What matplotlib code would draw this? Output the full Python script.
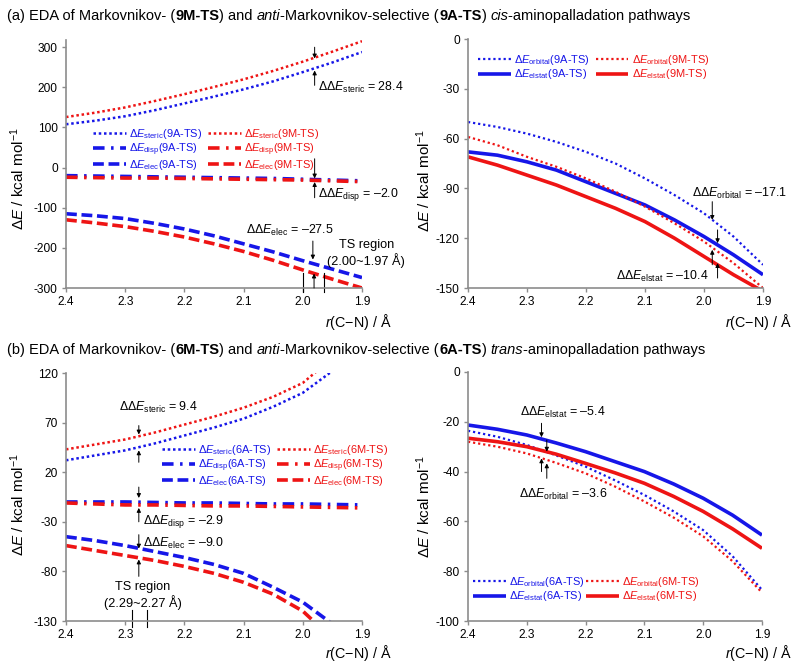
import matplotlib
matplotlib.use('Agg')
import matplotlib.pyplot as plt
import numpy as np
from matplotlib.ticker import FormatStrFormatter, MultipleLocator

plt.rcParams['font.family'] = ['Liberation Sans', 'DejaVu Sans']
plt.rcParams['mathtext.fontset'] = 'custom'
plt.rcParams['mathtext.rm'] = 'Liberation Sans'
plt.rcParams['mathtext.it'] = 'Liberation Sans:italic'
plt.rcParams['mathtext.bf'] = 'Liberation Sans:bold'
plt.rcParams['axes.unicode_minus'] = False

BLUE = '#1616e8'
RED = '#ee1414'
GRAY = '#8c8c8c'

# r(C-N) grid, read every 0.05 A
R = [2.40, 2.35, 2.30, 2.25, 2.20, 2.15, 2.10, 2.05, 2.00, 1.95, 1.90]

# (a) cis, left panel
steric_9A = [108, 117, 128, 143, 160, 177, 195, 215, 238, 262, 288]
steric_9M = [126, 137, 150, 166, 183, 201, 220, 241, 264, 289, 315]
disp_9A = [-20, -21, -22, -23, -24, -25, -26, -27, -29, -31, -33]
disp_9M = [-24, -25, -26, -26, -27, -28, -29, -30, -31, -33, -35]
elec_9A = [-115, -120, -127, -139, -153, -170, -190, -210, -232, -253, -274]
elec_9M = [-130, -138, -147, -159, -173, -190, -209, -231, -255, -278, -300]

# (a) cis, right panel
orbital_9A = [-50, -53, -57, -62, -68, -75, -84, -94, -105, -119, -136]
orbital_9M = [-59, -64, -71, -77, -84, -92, -101, -111, -122, -135, -150]
elstat_9A = [-68, -70, -74, -79, -86, -93, -100, -109, -119, -130, -142]
elstat_9M = [-71, -76, -82, -88, -95, -102, -110, -120, -131, -142, -152]

# (b) trans, left panel (curves leave the plot near 1.95-1.98)
steric_6A = [32, 37, 42, 49, 57, 65, 74, 86, 100, 122]
steric_6M = [43, 48, 53, 60, 68, 76, 85, 96, 110, 135]
disp_6A = [-10, -10, -10, -10.5, -11, -11, -11.5, -12, -12, -12.5, -13]
disp_6M = [-11, -12, -13, -13, -13.5, -14, -14, -14.5, -15, -15.5, -16]
elec_6A = [-45, -49, -54, -60, -66, -73, -82, -96, -111, -133]
elec_6M = [-54, -59, -64, -69, -75, -82, -91, -103, -120, -148]

# (b) trans, right panel
elstat_6A = [-21.3, -23, -25.3, -28.5, -32, -36, -40, -45, -50.7, -57.5, -65.5]
elstat_6M = [-26.6, -28, -30, -33, -36.7, -40.5, -44.7, -50, -56, -63, -70.8]
orbital_6A = [-23.6, -26, -29.3, -33.5, -38, -43.5, -49.4, -56, -63.5, -74, -87.5]
orbital_6M = [-28, -30, -32.7, -36.5, -40.7, -46, -52, -58.5, -66, -76, -88.6]

TS_A = [2.00, 1.965]
TS_B = [2.288, 2.264]

STYLE = {
    'steric': dict(lw=1.8, dashes=(1, 1.1)),
    'disp': dict(lw=2.6, dashes=(3.2, 1.8, 0.7, 1.8)),
    'elec': dict(lw=2.6, dashes=(3.0, 1.3)),
    'orbital': dict(lw=1.6, dashes=(1, 1.3)),
    'elstat': dict(lw=2.6),
}

W, H = 800, 668
fig = plt.figure(figsize=(8, 6.68), dpi=100)


def px_axes(x0, x1, ytop, ybot):
    return fig.add_axes([x0 / W, 1 - ybot / H, (x1 - x0) / W, (ybot - ytop) / H])


def style_axes(ax, ylim, ystep, ytop, label_xy):
    ax.set_xlim(2.4, 1.9)
    ax.set_ylim(ylim[0], ytop)
    ax.xaxis.set_major_locator(MultipleLocator(0.1))
    ax.xaxis.set_major_formatter(FormatStrFormatter('%.1f'))
    ax.set_yticks(np.arange(ylim[0], ylim[1] + 1, ystep))
    ax.yaxis.set_major_formatter(FormatStrFormatter('%d'))
    for s in ['top', 'right']:
        ax.spines[s].set_visible(False)
    for s in ['left', 'bottom']:
        ax.spines[s].set_color(GRAY)
        ax.spines[s].set_linewidth(1.2)
    ax.tick_params(direction='out', length=3, width=1, color=GRAY,
                   labelsize=8.6, pad=3)
    ax.set_ylabel(r'$\Delta\mathit{E}$ / kcal mol$^{-1}$', fontsize=11)
    ax.yaxis.set_label_coords(*label_xy)


def curve(ax, y, color, kind, label):
    ax.plot(R[:len(y)], y, color=color, label=label, solid_capstyle='butt',
            dash_capstyle='butt', **STYLE[kind])


def arrow(ax, x, y0, y1):
    ax.annotate('', xy=(x, y1), xytext=(x, y0),
                arrowprops=dict(arrowstyle='-|>', color='black', lw=0.7,
                                mutation_scale=6, shrinkA=0, shrinkB=0))


def note(ax, x, y, s, ha='left'):
    ax.text(x, y, s, fontsize=8.9, ha=ha, va='center')


def legend(ax, x, y, colsp=0.5):
    leg = ax.legend(ncol=2, loc='upper left', bbox_to_anchor=(x / W, 1 - y / H),
                    bbox_transform=fig.transFigure, frameon=False, fontsize=7.9,
                    borderpad=0, borderaxespad=0, handlelength=3.0,
                    handletextpad=0.3, columnspacing=colsp, labelspacing=0.04)
    for t, h in zip(leg.get_texts(), leg.legend_handles):
        t.set_color(h.get_color())
    return leg


def rich_title(x, y, runs, size=10.55):
    renderer = fig.canvas.get_renderer()
    xp = x
    for s, weight, style in runs:
        fig.text(xp / W, 1 - y / H, s, fontsize=size, fontweight=weight,
                 fontstyle=style, ha='left', va='center')
        t1 = fig.text(0, 0, s + 'x', fontsize=size, fontweight=weight, fontstyle=style)
        t2 = fig.text(0, 0, 'x', fontsize=size, fontweight=weight, fontstyle=style)
        xp += t1.get_window_extent(renderer).width - t2.get_window_extent(renderer).width
        t1.remove()
        t2.remove()


def lab(name, tag):
    return r'$\Delta\mathit{E}_{\mathrm{' + name + '}}$(' + tag + ')'


xlabel = r'$\mathit{r}$(C$-$N) / Å'


def x_title(xr, yc):
    fig.text(xr / W, 1 - yc / H, xlabel, fontsize=10.3, ha='right', va='center')


# ---------------- (a) left ----------------
ax = px_axes(66, 362, 40, 288)
style_axes(ax, (-300, 300), 100, 318, (-0.132, 0.44))
curve(ax, steric_9A, BLUE, 'steric', lab('steric', '9A-TS'))
curve(ax, disp_9A, BLUE, 'disp', lab('disp', '9A-TS'))
curve(ax, elec_9A, BLUE, 'elec', lab('elec', '9A-TS'))
curve(ax, steric_9M, RED, 'steric', lab('steric', '9M-TS'))
curve(ax, disp_9M, RED, 'disp', lab('disp', '9M-TS'))
curve(ax, elec_9M, RED, 'elec', lab('elec', '9M-TS'))
legend(ax, 93, 127)
arrow(ax, 1.98, 300, 272)
arrow(ax, 1.98, 205, 242)
note(ax, 1.975, 200, r'$\Delta\Delta\mathit{E}_{\mathrm{steric}}$ = 28.4')
arrow(ax, 1.98, 22, -27)
arrow(ax, 1.98, -75, -36)
note(ax, 1.975, -68, r'$\Delta\Delta\mathit{E}_{\mathrm{disp}}$ = –2.0')
note(ax, 2.022, -157, r'$\Delta\Delta\mathit{E}_{\mathrm{elec}}$ = –27.5', ha='center')
arrow(ax, 1.983, -183, -229)
arrow(ax, 1.981, -300, -264)
ax.text(1.893, -214, 'TS region\n(2.00~1.97 Å)', fontsize=9.2, ha='center',
        va='center', linespacing=1.15)
for xv in TS_A:
    ax.plot([xv, xv], [-262, -311], color='black', lw=0.8, clip_on=False)
x_title(392, 322)

# ---------------- (a) right ----------------
ax = px_axes(468, 763, 39, 288)
style_axes(ax, (-150, 0), 30, 0, (-0.119, 0.43))
curve(ax, orbital_9A, BLUE, 'orbital', lab('orbital', '9A-TS'))
curve(ax, elstat_9A, BLUE, 'elstat', lab('elstat', '9A-TS'))
curve(ax, orbital_9M, RED, 'orbital', lab('orbital', '9M-TS'))
curve(ax, elstat_9M, RED, 'elstat', lab('elstat', '9M-TS'))
legend(ax, 478, 53)
note(ax, 2.02, -93, r'$\Delta\Delta\mathit{E}_{\mathrm{orbital}}$ = –17.1')
arrow(ax, 1.986, -98, -109)
arrow(ax, 1.977, -115, -123)
arrow(ax, 1.986, -136, -127)
arrow(ax, 1.977, -144, -135)
note(ax, 1.993, -143, r'$\Delta\Delta\mathit{E}_{\mathrm{elstat}}$ = –10.4', ha='right')
x_title(792, 322)

# ---------------- (b) left ----------------
ax = px_axes(66, 362, 373, 621)
style_axes(ax, (-130, 120), 50, 120, (-0.132, 0.47))
curve(ax, steric_6A, BLUE, 'steric', lab('steric', '6A-TS'))
curve(ax, disp_6A, BLUE, 'disp', lab('disp', '6A-TS'))
curve(ax, elec_6A, BLUE, 'elec', lab('elec', '6A-TS'))
curve(ax, steric_6M, RED, 'steric', lab('steric', '6M-TS'))
curve(ax, disp_6M, RED, 'disp', lab('disp', '6M-TS'))
curve(ax, elec_6M, RED, 'elec', lab('elec', '6M-TS'))
legend(ax, 162, 443)
note(ax, 2.31, 85, r'$\Delta\Delta\mathit{E}_{\mathrm{steric}}$ = 9.4')
arrow(ax, 2.277, 67, 58)
arrow(ax, 2.277, 30, 42)
arrow(ax, 2.277, 5, -6)
arrow(ax, 2.277, -30, -16)
note(ax, 2.27, -30, r'$\Delta\Delta\mathit{E}_{\mathrm{disp}}$ = –2.9')
arrow(ax, 2.277, -43, -57)
arrow(ax, 2.277, -85, -68)
note(ax, 2.27, -52, r'$\Delta\Delta\mathit{E}_{\mathrm{elec}}$ = –9.0')
ax.text(2.27, -104, 'TS region\n(2.29~2.27 Å)', fontsize=9.2, ha='center',
        va='center', linespacing=1.15)
for xv in TS_B:
    ax.plot([xv, xv], [-119, -136], color='black', lw=0.8, clip_on=False)
x_title(392, 653)

# ---------------- (b) right ----------------
ax = px_axes(468, 762, 372, 621)
style_axes(ax, (-100, 0), 20, 0, (-0.119, 0.46))
curve(ax, orbital_6A, BLUE, 'orbital', lab('orbital', '6A-TS'))
curve(ax, elstat_6A, BLUE, 'elstat', lab('elstat', '6A-TS'))
curve(ax, orbital_6M, RED, 'orbital', lab('orbital', '6M-TS'))
curve(ax, elstat_6M, RED, 'elstat', lab('elstat', '6M-TS'))
legend(ax, 473, 575, colsp=0.1)
note(ax, 2.311, -16.3, r'$\Delta\Delta\mathit{E}_{\mathrm{elstat}}$ = –5.4')
arrow(ax, 2.275, -20.6, -26.2)
arrow(ax, 2.266, -27.3, -32)
arrow(ax, 2.275, -40, -34.7)
arrow(ax, 2.266, -42.7, -36.7)
note(ax, 2.313, -49, r'$\Delta\Delta\mathit{E}_{\mathrm{orbital}}$ = –3.6')
x_title(792, 653)

# ---------------- titles ----------------
rich_title(7, 16, [('(a) EDA of Markovnikov- (', 'normal', 'normal'),
                   ('9M-TS', 'bold', 'normal'),
                   (') and ', 'normal', 'normal'),
                   ('anti', 'normal', 'italic'),
                   ('-Markovnikov-selective (', 'normal', 'normal'),
                   ('9A-TS', 'bold', 'normal'),
                   (') ', 'normal', 'normal'),
                   ('cis', 'normal', 'italic'),
                   ('-aminopalladation pathways', 'normal', 'normal')])
rich_title(7, 350, [('(b) EDA of Markovnikov- (', 'normal', 'normal'),
                    ('6M-TS', 'bold', 'normal'),
                    (') and ', 'normal', 'normal'),
                    ('anti', 'normal', 'italic'),
                    ('-Markovnikov-selective (', 'normal', 'normal'),
                    ('6A-TS', 'bold', 'normal'),
                    (') ', 'normal', 'normal'),
                    ('trans', 'normal', 'italic'),
                    ('-aminopalladation pathways', 'normal', 'normal')])

fig.savefig('out.png', dpi=100)
